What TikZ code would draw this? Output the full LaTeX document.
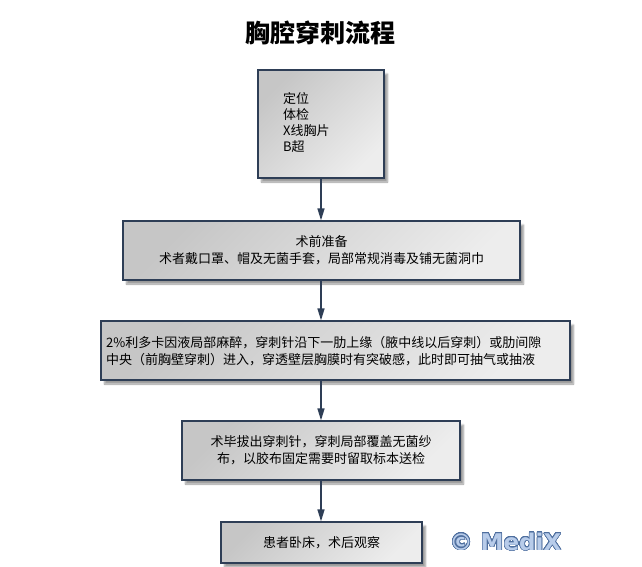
\documentclass[tikz,border=0pt]{standalone}
\usepackage{fontspec}
\usepackage{contour}
\newfontfamily\cjk{Noto Sans CJK SC}
\newfontfamily\wm{DejaVu Sans}
\usetikzlibrary{arrows.meta,shadows.blur}
\definecolor{edge}{HTML}{2E3E56}
\definecolor{boxA}{HTML}{C6C6C6}
\definecolor{boxB}{HTML}{EDEDED}
\definecolor{wmfill}{HTML}{B8CCEA}
\definecolor{wmline}{HTML}{4E6E9E}
\contourlength{0.6pt}
\contournumber{32}
\tikzset{
  flowbox/.style={draw=edge, line width=1.2pt, rectangle, inner sep=0pt,
    top color=boxA, bottom color=boxB, shading angle=45,
    blur shadow={shadow xshift=3.5pt, shadow yshift=-4pt, shadow blur steps=6, shadow opacity=40},
    font=\cjk\fontsize{13}{17}\selectfont, align=center},
  txt/.style={inner sep=0pt, font=\cjk\fontsize{13}{17}\selectfont},
  flowarrow/.style={draw=edge, line width=1.3pt, -{Triangle[length=12pt,width=7pt]}}
}
\begin{document}
\begin{tikzpicture}[x=1pt,y=-1pt]
\useasboundingbox (0,0) rectangle (642,566);
\node[inner sep=0pt, font=\cjk\bfseries\fontsize{25}{28}\selectfont] (title) at (320,33) {胸腔穿刺流程};

\node[flowbox, minimum width=126pt, minimum height=108pt] (b1) at (321,124) {};
\node[txt, anchor=west, align=left, font=\cjk\fontsize{13}{16.3}\selectfont] (t1) at (283,122.5) {定位\\体检\\X线胸片\\B超};

\node[flowbox, minimum width=397pt, minimum height=59pt] (b2) at (321.5,250.5) {术前准备\\术者戴口罩、帽及无菌手套，局部常规消毒及铺无菌洞巾};

\node[flowbox, minimum width=469pt, minimum height=59pt] (b3) at (335.5,350.5) {};
\node[txt, anchor=west, align=left] (t3) at (106,351) {2\%利多卡因液局部麻醉，穿刺针沿下一肋上缘（腋中线以后穿刺）或肋间隙\\中央（前胸壁穿刺）进入，穿透壁层胸膜时有突破感，此时即可抽气或抽液};

\node[flowbox, minimum width=278pt, minimum height=59pt] (b4) at (321,450.5) {术毕拔出穿刺针，穿刺局部覆盖无菌纱\\布，以胶布固定需要时留取标本送检};

\node[flowbox, minimum width=201pt, minimum height=41pt] (b5) at (321.5,542.5) {患者卧床，术后观察};

\draw[flowarrow] (b1.south) -- (b1.south |- b2.north);
\draw[flowarrow] (b1.south |- b2.south) -- (b1.south |- b3.north);
\draw[flowarrow] (b1.south |- b3.south) -- (b1.south |- b4.north);
\draw[flowarrow] (b1.south |- b4.south) -- (b1.south |- b5.north);

\node[inner sep=0pt, text=wmfill, font=\wm\bfseries\fontsize{23}{26}\selectfont] (mark) at (505.5,542) {\contour{wmline}{© MediX}};
\end{tikzpicture}
\end{document}
